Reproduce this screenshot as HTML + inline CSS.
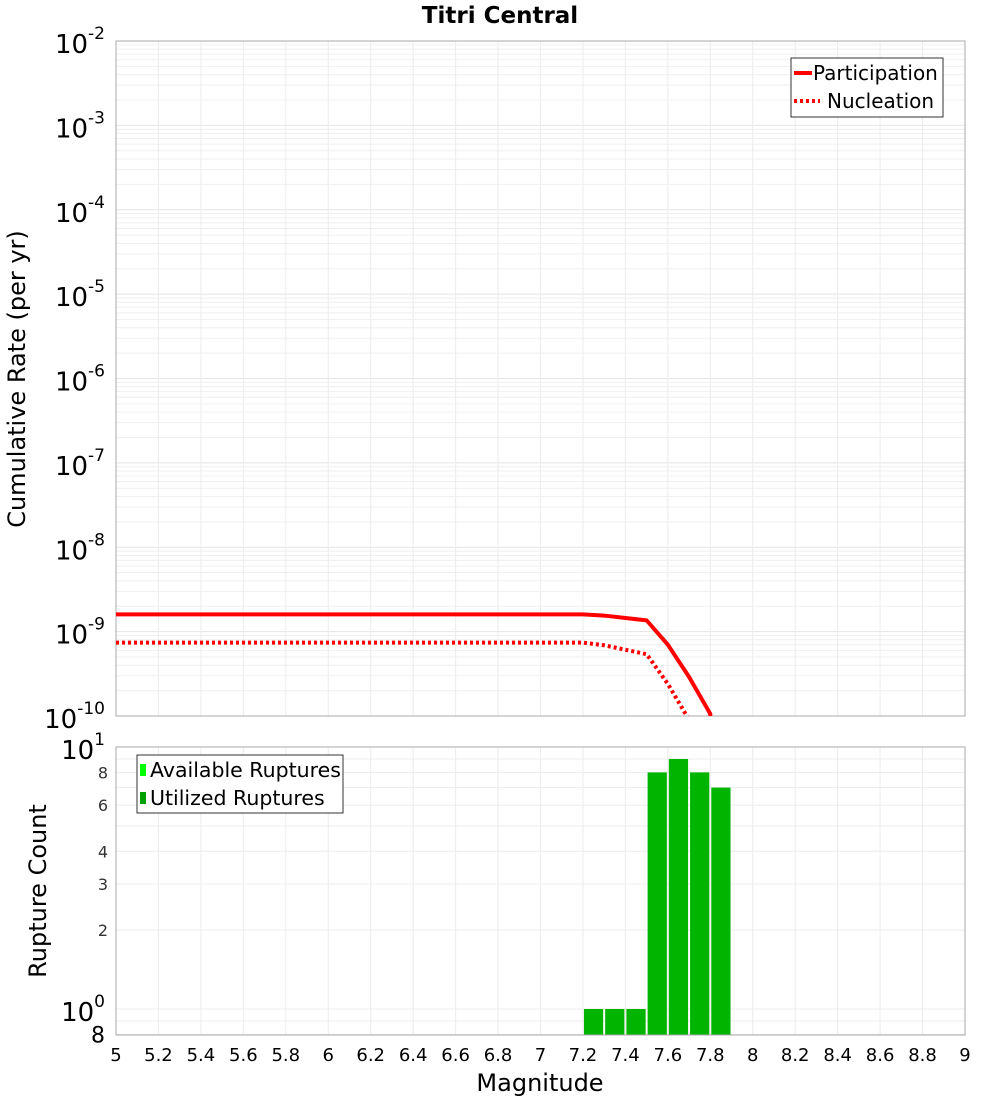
<!DOCTYPE html>
<html><head><meta charset="utf-8"><style>
body{margin:0;background:#fff;font-family:"DejaVu Sans","Liberation Sans",sans-serif}
svg text{font-family:"DejaVu Sans","Liberation Sans",sans-serif}
</style></head><body>
<svg id="c" width="1000" height="1100" xmlns="http://www.w3.org/2000/svg"></svg>
<script>
const xTicks=[5,5.2,5.4,5.6,5.8,6,6.2,6.4,6.6,6.8,7,7.2,7.4,7.6,7.8,8,8.2,8.4,8.6,8.8,9];
const partMag=[5,7.2,7.3,7.4,7.5,7.6,7.7,7.8,7.8];
const partRate=[1.6e-9,1.6e-9,1.55e-9,1.45e-9,1.36e-9,7.0e-10,2.9e-10,1.06e-10,1e-10];
const nuclMag=[5,7.2,7.3,7.4,7.5,7.6,7.7];
const nuclRate=[7.4e-10,7.4e-10,6.9e-10,6.1e-10,5.4e-10,2.4e-10,9e-11];
const barMag=[7.25,7.35,7.45,7.55,7.65,7.75,7.85];
const barCount=[1,1,1,8,9,8,7];
const topExps=[-2,-3,-4,-5,-6,-7,-8,-9,-10];
const botTicks=[8,6,4,3,2];

const S=document.getElementById('c');const NS='http://www.w3.org/2000/svg';
function el(t,a,p){const e=document.createElementNS(NS,t);for(const k in a)e.setAttribute(k,a[k]);(p||S).appendChild(e);return e;}
const X0=116,X1=965;
const xs=m=>X0+(m-5)/4*(X1-X0);
const T0=41,T1=716;
const ty=v=>T0+(-2-Math.log10(v))/8*(T1-T0);
const B0=747,B1=1035;
const by=v=>1009-Math.log10(v)*262;

let t=el('text',{x:500,y:23,'text-anchor':'middle','font-size':23,'font-weight':'bold'});t.textContent='Titri Central';



const gTop=el('g',{});


for(let e=-10;e<-2;e++)for(let k=1;k<10;k++){const y=ty(k*Math.pow(10,e));el('line',{x1:X0,x2:X1,y1:y,y2:y,stroke:k==1?'#e4e4e4':'#efefef','stroke-width':1},gTop);}
xTicks.forEach(m=>{el('line',{x1:xs(m),x2:xs(m),y1:T0,y2:T1,stroke:'#ececec'},gTop);});
let r=el('rect',{x:X0,y:T0,width:X1-X0,height:T1-T0,fill:'none',stroke:'#aaa'});



topExps.forEach(e=>{const y=ty(Math.pow(10,e));
const tx=el('text',{x:105,y:y+12,'text-anchor':'end','font-size':26});


tx.innerHTML='10<tspan dy="-14" font-size="17">'+e+'</tspan>';});

const clip=el('clipPath',{id:'cp'});el('rect',{x:X0,y:T0,width:X1-X0,height:T1-T0},clip);
function line(ms,vs,dash,name){const p=el('polyline',{points:ms.map((m,i)=>xs(m)+','+ty(vs[i])).join(' '),fill:'none',stroke:'#ff0000','stroke-width':4,'stroke-dasharray':dash,'clip-path':'url(#cp)'});

}
line(partMag,partRate,'none','participation-line');
line(nuclMag,nuclRate,'3,3','nucleation-line');

const lg=el('g',{});


el('rect',{x:791,y:58,width:152,height:59,fill:'#fff',stroke:'#333'},lg);
el('line',{x1:794,x2:812,y1:73,y2:73,stroke:'#f00','stroke-width':4},lg);
el('line',{x1:794,x2:820,y1:101,y2:101,stroke:'#f00','stroke-width':4,'stroke-dasharray':'3,3'},lg);
let l1=el('text',{x:813,y:80,'font-size':20},lg);l1.textContent='Participation';
let l2=el('text',{x:827,y:108,'font-size':20},lg);l2.textContent='Nucleation';

let yt=el('text',{x:0,y:0,'font-size':24,'text-anchor':'middle',transform:'translate(25,379) rotate(-90)'});yt.textContent='Cumulative Rate (per yr)';



const gB=el('g',{});


[0.8,0.9,1,2,3,4,5,6,7,8,9,10].forEach(v=>{const y=by(v);el('line',{x1:X0,x2:X1,y1:y,y2:y,stroke:'#ececec'},gB);});
xTicks.forEach(m=>{el('line',{x1:xs(m),x2:xs(m),y1:B0,y2:B1,stroke:'#ececec'},gB);});

barMag.forEach((m,i)=>{const x=xs(m-0.05)+1,w=xs(m+0.05)-xs(m-0.05)-2;const y=by(barCount[i]);
const b=el('rect',{x:x,y:y,width:w,height:B1-y,fill:'#00b400'});

});
r=el('rect',{x:X0,y:B0,width:X1-X0,height:B1-B0,fill:'none',stroke:'#aaa'});



let tk=el('text',{x:105,y:by(10)+12,'text-anchor':'end','font-size':26});tk.innerHTML='10<tspan dy="-14" font-size="17">1</tspan>';


tk=el('text',{x:105,y:by(1)+12,'text-anchor':'end','font-size':26});tk.innerHTML='10<tspan dy="-14" font-size="17">0</tspan>';


tk=el('text',{x:105,y:by(0.8)+8,'text-anchor':'end','font-size':22});tk.textContent='8';


botTicks.forEach(v=>{const tx=el('text',{x:108,y:by(v)+6,'text-anchor':'end','font-size':16,fill:'#333'});tx.textContent=v;

});

const lb=el('g',{});


el('rect',{x:137,y:755,width:206,height:58,fill:'#fff',stroke:'#333'},lb);
el('rect',{x:140,y:764,width:6,height:12,fill:'#00ff00'},lb);
el('rect',{x:140,y:792,width:6,height:12,fill:'#00a000'},lb);
let a1=el('text',{x:150,y:777,'font-size':20.5},lb);a1.textContent='Available Ruptures';
let a2=el('text',{x:150,y:805,'font-size':20.5},lb);a2.textContent='Utilized Ruptures';

yt=el('text',{x:0,y:0,'font-size':24,'text-anchor':'middle',transform:'translate(46,891) rotate(-90)'});yt.textContent='Rupture Count';



xTicks.forEach(m=>{const tx=el('text',{x:xs(m),y:1061,'text-anchor':'middle','font-size':18});tx.textContent=String(Math.round(m*10)/10);

});
let xt=el('text',{x:540,y:1091,'text-anchor':'middle','font-size':24});xt.textContent='Magnitude';


</script>
</body></html>
